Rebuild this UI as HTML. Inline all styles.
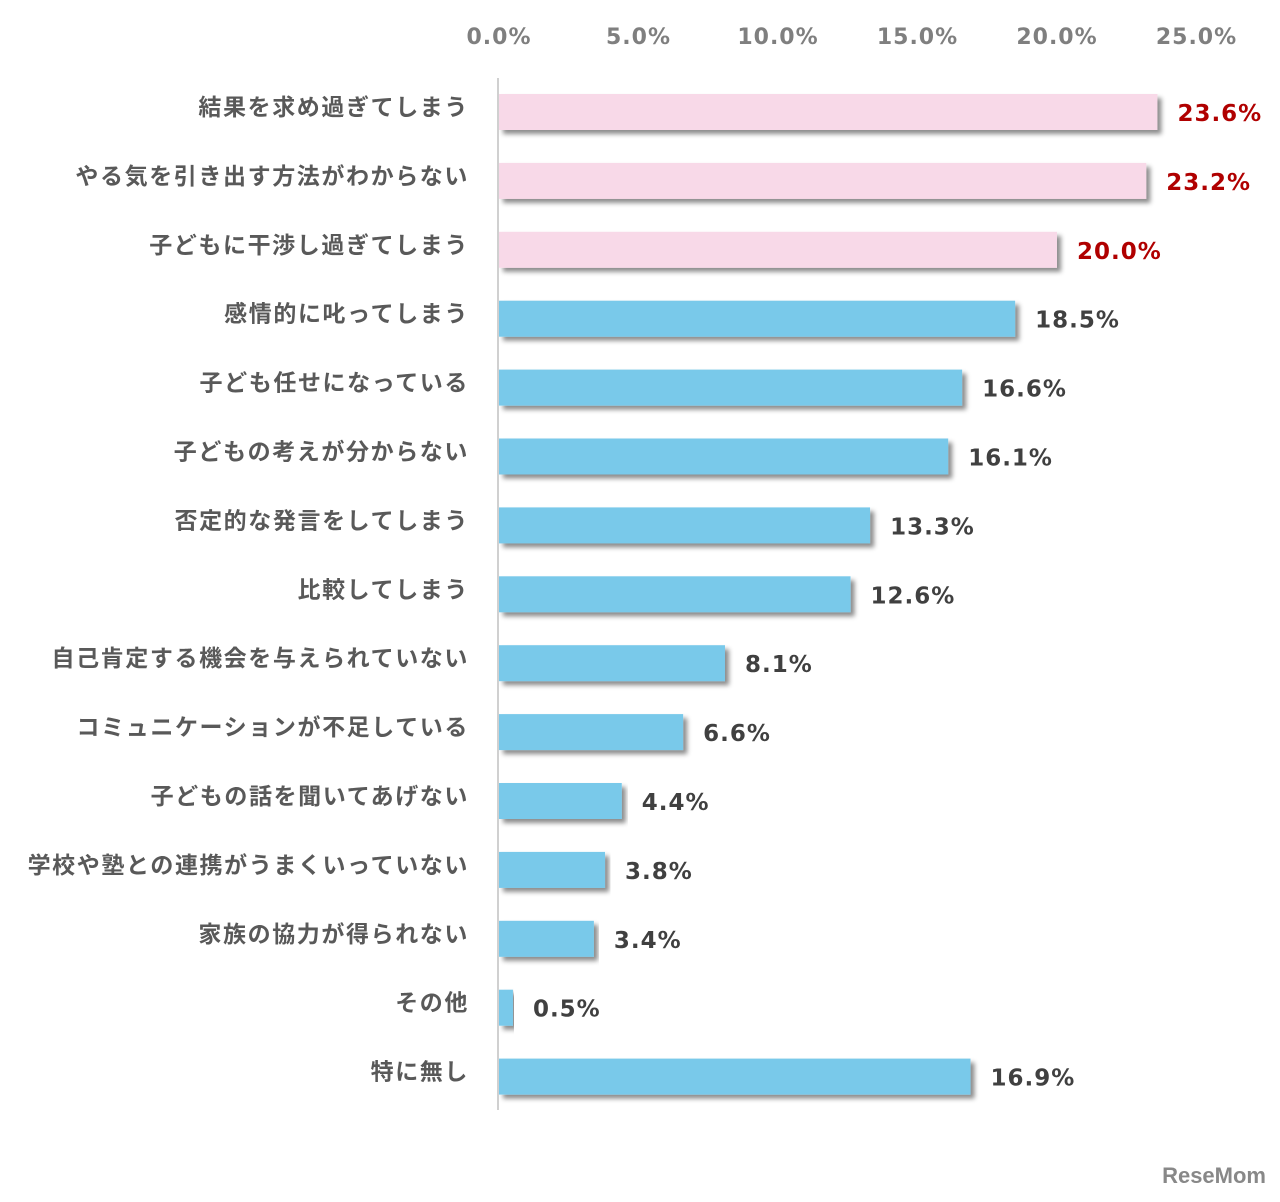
<!DOCTYPE html>
<html><head><meta charset="utf-8"><style>
body{margin:0;background:#fff;}
svg text{font-family:"Liberation Sans","Noto Sans CJK JP",sans-serif;font-weight:bold;}
svg text.num{font-family:"DejaVu Sans","Liberation Sans",sans-serif;letter-spacing:1px;}
</style></head><body>
<svg id="chart" width="1280" height="1197" xmlns="http://www.w3.org/2000/svg">
<defs><filter id="sh" x="-5%" y="-20%" width="110%" height="160%"><feDropShadow dx="4" dy="4" stdDeviation="2.5" flood-color="#000" flood-opacity="0.45"/></filter></defs>
<g id="ticks"></g><g id="bars"></g>
<line x1="498" y1="78" x2="498" y2="1110" stroke="#d0d0d0" stroke-width="2"/>
<text x="1266" y="1183" text-anchor="end" font-size="22" fill="#888">ReseMom</text>
</svg>
<script>
const categories=["結果を求め過ぎてしまう","やる気を引き出す方法がわからない","子どもに干渉し過ぎてしまう","感情的に叱ってしまう","子ども任せになっている","子どもの考えが分からない","否定的な発言をしてしまう","比較してしまう","自己肯定する機会を与えられていない","コミュニケーションが不足している","子どもの話を聞いてあげない","学校や塾との連携がうまくいっていない","家族の協力が得られない","その他","特に無し"];
const values=[23.6,23.2,20.0,18.5,16.6,16.1,13.3,12.6,8.1,6.6,4.4,3.8,3.4,0.5,16.9];
const highlighted=[true,true,true,false,false,false,false,false,false,false,false,false,false,false,false];
const tickValues=[0,5,10,15,20,25];
const tickLabels=["0.0%","5.0%","10.0%","15.0%","20.0%","25.0%"];
const NS="http://www.w3.org/2000/svg";
const x=v=>499+v*27.9;
const yc=i=>112+i*68.9;
const tg=document.getElementById('ticks'),bg=document.getElementById('bars');
tickValues.forEach((t,i)=>{
 const e=document.createElementNS(NS,'text');
 
 
 e.setAttribute('class','num');
 e.setAttribute('x',x(t));e.setAttribute('y',44);e.setAttribute('text-anchor','middle');
 e.setAttribute('font-size','22');e.setAttribute('fill','#7f7f7f');e.textContent=tickLabels[i];tg.appendChild(e);
});
categories.forEach((c,i)=>{
 const r=document.createElementNS(NS,'rect');
 
 
 r.setAttribute('x',499);r.setAttribute('y',yc(i)-18);r.setAttribute('width',x(values[i])-499);r.setAttribute('height',36);
 r.setAttribute('fill',highlighted[i]?'#f8d9e8':'#79c9ea');r.setAttribute('filter','url(#sh)');bg.appendChild(r);
 const l=document.createElementNS(NS,'text');
 
 
 l.setAttribute('x',469);l.setAttribute('y',yc(i)+3);l.setAttribute('text-anchor','end');
 l.setAttribute('font-size','23');l.setAttribute('letter-spacing','1.6');l.setAttribute('fill','#595959');l.textContent=c;bg.appendChild(l);
 const v=document.createElementNS(NS,'text');
 
 
 v.setAttribute('class','num');
 v.setAttribute('x',x(values[i])+20);v.setAttribute('y',yc(i)+9);
 v.setAttribute('font-size','23');v.setAttribute('fill',highlighted[i]?'#b00000':'#404040');
 v.textContent=values[i].toFixed(1)+'%';bg.appendChild(v);
});
</script>
</body></html>
